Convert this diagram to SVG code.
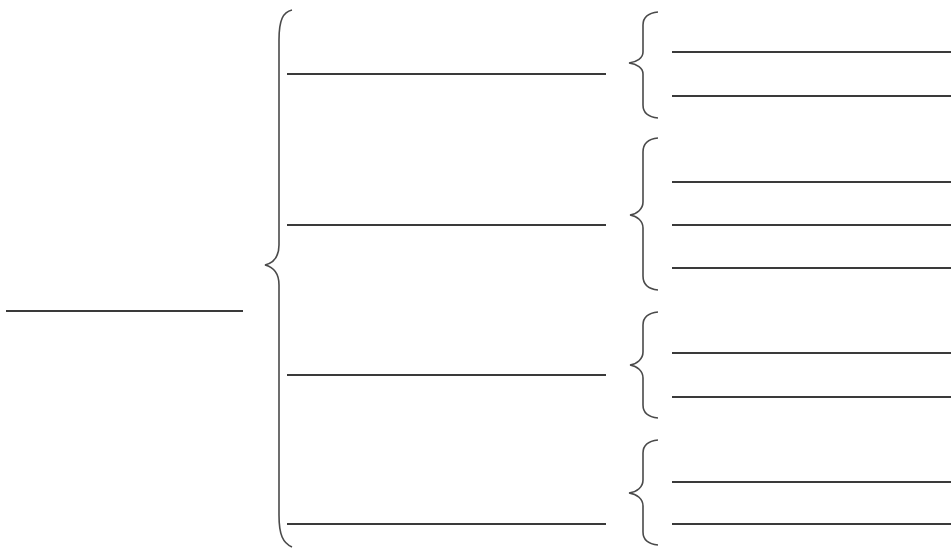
<svg xmlns="http://www.w3.org/2000/svg" width="951" height="550" viewBox="0 0 951 550">
<style>
.l{stroke:#3a3a3a;stroke-width:2;fill:none}
.b{stroke:#4a4a4a;stroke-width:1.6;fill:none}
</style>
<rect width="951" height="550" fill="#ffffff"/>
<g id="connectors">
<path class="b" d="M292 10 C283 12 279 20 279 40 L279 245 C279 257 273 263 265 265 C273 267 279 273 279 285 L279 515 C279 535 283 543 292 547"/>
<path class="b" d="M658 12 C648 13 643 17 643 25 L643 52 C643 58 637 62 629 63 C637 64 643 68 643 74 L643 105 C643 113 648 117 658 118"/>
<path class="b" d="M658 138 C648 139 643 143 643 152 L643 202 C643 209 637 214 630 215 C637 216 643 221 643 228 L643 276 C643 285 648 289 658 290"/>
<path class="b" d="M658 312 C648 313 643 317 643 325 L643 352 C643 359 637 364 630 365 C637 366 643 371 643 378 L643 405 C643 413 648 417 658 418"/>
<path class="b" d="M658 440 C648 441 643 445 643 453 L643 480 C643 487 637 492 629 493 C637 494 643 499 643 506 L643 532 C643 540 648 544 658 545"/>
</g>
<g id="root"><line class="l" x1="6" y1="311" x2="243" y2="311"/></g>
<g id="mid1"><line class="l" x1="287" y1="74" x2="606" y2="74"/></g>
<g id="mid2"><line class="l" x1="287" y1="225" x2="606" y2="225"/></g>
<g id="mid3"><line class="l" x1="287" y1="375" x2="606" y2="375"/></g>
<g id="mid4"><line class="l" x1="287" y1="524" x2="606" y2="524"/></g>
<g id="leaf1a"><line class="l" x1="672" y1="52" x2="951" y2="52"/></g>
<g id="leaf1b"><line class="l" x1="672" y1="96" x2="951" y2="96"/></g>
<g id="leaf2a"><line class="l" x1="672" y1="182" x2="951" y2="182"/></g>
<g id="leaf2b"><line class="l" x1="672" y1="225" x2="951" y2="225"/></g>
<g id="leaf2c"><line class="l" x1="672" y1="268" x2="951" y2="268"/></g>
<g id="leaf3a"><line class="l" x1="672" y1="353" x2="951" y2="353"/></g>
<g id="leaf3b"><line class="l" x1="672" y1="397" x2="951" y2="397"/></g>
<g id="leaf4a"><line class="l" x1="672" y1="482" x2="951" y2="482"/></g>
<g id="leaf4b"><line class="l" x1="672" y1="524" x2="951" y2="524"/></g>
</svg>
